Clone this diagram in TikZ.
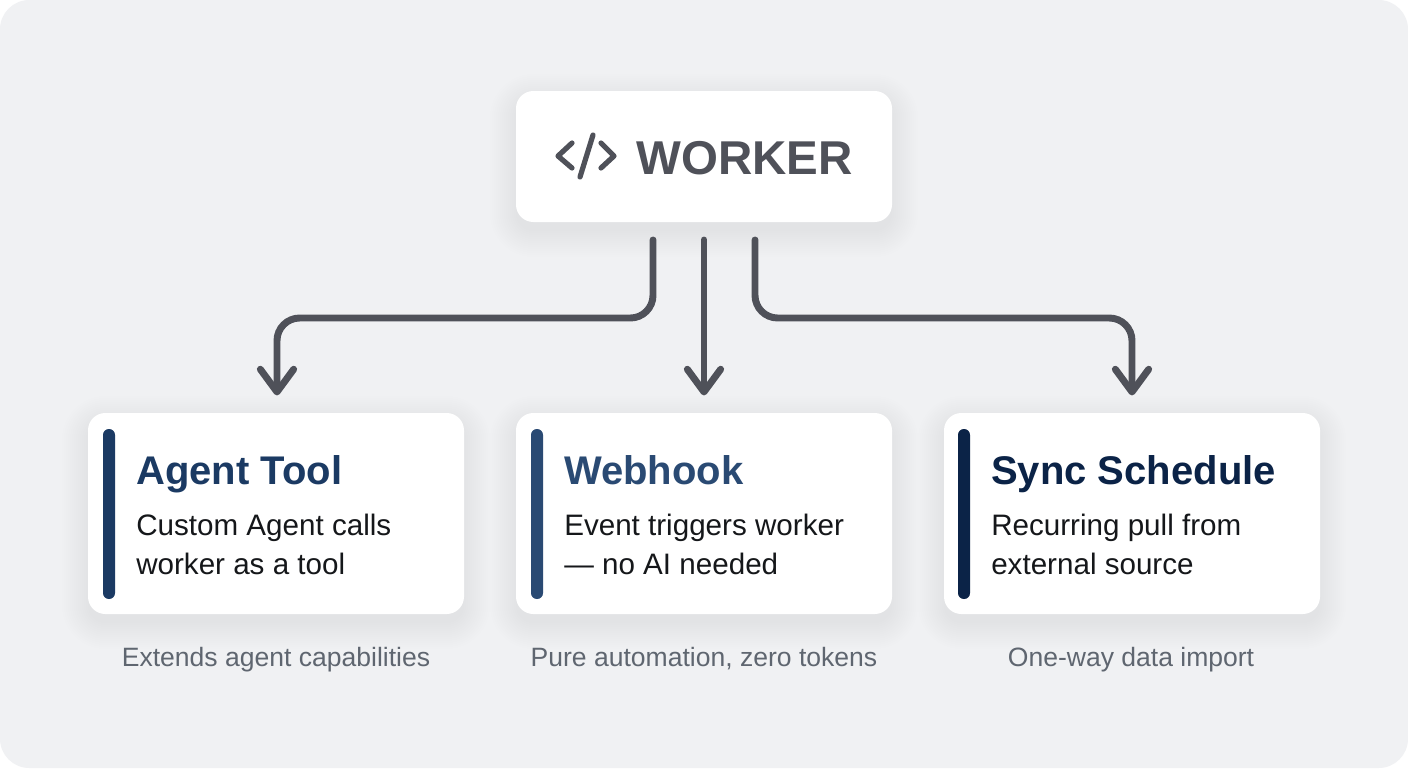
\documentclass[tikz,border=0pt]{standalone}
\usepackage{fontspec}
\setmainfont{Liberation Sans}
\usetikzlibrary{arrows.meta}

\definecolor{pagebg}{HTML}{F0F1F3}
\definecolor{linkgray}{HTML}{4F5159}
\definecolor{agentblue}{HTML}{1B3A63}
\definecolor{hookblue}{HTML}{2A4A73}
\definecolor{syncblue}{HTML}{0B2347}
\definecolor{bodyblack}{HTML}{15171A}
\definecolor{notegray}{HTML}{5F6670}

\tikzset{
    card/.style={draw=none, fill=white, rounded corners=13pt, inner sep=0pt, minimum width=282pt},
    bar/.style={draw=none, rounded corners=4.4pt, inner sep=0pt, minimum width=9pt, minimum height=127.5pt},
    title/.style={anchor=base west, inner sep=0pt, font=\fontsize{30}{32}\selectfont\bfseries},
    body/.style={anchor=base west, inner sep=0pt, text=bodyblack, font=\fontsize{22.2}{24}\selectfont},
    note/.style={anchor=base, inner sep=0pt, text=notegray, font=\fontsize{19.9}{22}\selectfont},
    link/.style={draw=linkgray, line width=5.2pt, rounded corners=17pt, line cap=round,
        -{Straight Barb[length=17pt,width=25pt,round]}, shorten >=13pt},
    icon/.style={draw=linkgray, line width=3.9pt, line cap=round, line join=round},
}

% soft shadow under a card: left, top, right, bottom
\newcommand{\softshadow}[4]{
    \foreach \grow in {0,2,...,26} {
        \fill[black, opacity=0.0036, rounded corners=13pt+0.75pt*\grow]
            (#1-\grow,#2+9-\grow) rectangle (#3+\grow,#4+9+\grow);
    }
}

\begin{document}
\begin{tikzpicture}[x=0.75pt,y=0.75pt,yscale=-1,xscale=1]
    \useasboundingbox (0,0) rectangle (1408,768);

    % page
    \fill[white] (0,0) rectangle (1408,768);
    \fill[pagebg, rounded corners=22pt] (0,0) rectangle (1408,768);

    % shadows
    \softshadow{516}{91}{892}{222}
    \softshadow{88}{413}{464}{614}
    \softshadow{516}{413}{892}{614}
    \softshadow{944}{413}{1320}{614}

    % top card
    \node[card, minimum height=98.25pt] (worker) at (704,156.5) {};
    \draw[icon] (572,143) -- (558,156) -- (572,168);
    \draw[icon] (593,135) -- (580,177);
    \draw[icon] (601,143) -- (614,156) -- (601,168);
    \node[anchor=base west, inner sep=0pt, text=linkgray, font=\fontsize{35.6}{38}\selectfont\bfseries] (workername) at (636,174) {WORKER};

    % bottom cards
    \node[card, minimum height=150.75pt] (agent) at (276,513.5) {};
    \node[card, minimum height=150.75pt] (webhook) at (704,513.5) {};
    \node[card, minimum height=150.75pt] (sync) at (1132,513.5) {};

    \node[bar, fill=agentblue] (agentbar) at (109,514) {};
    \node[bar, fill=hookblue] (webhookbar) at (537,514) {};
    \node[bar, fill=syncblue] (syncbar) at (964,514) {};

    % Agent Tool
    \node[title, text=agentblue] (agenttitle) at (136,484) {Agent Tool};
    \node[body] (agentone) at (136,535) {Custom Agent calls};
    \node[body] (agenttwo) at (136,574) {worker as a tool};
    \node[note] (agentnote) at (276,666) {Extends agent capabilities};

    % Webhook
    \node[title, text=hookblue] (webhooktitle) at (564,484) {Webhook};
    \node[body] (webhookone) at (564,535) {Event triggers worker};
    \node[body] (webhooktwo) at (564,574) {— no AI needed};
    \node[note] (webhooknote) at (704,666) {Pure automation, zero tokens};

    % Sync Schedule
    \node[title, text=syncblue] (synctitle) at (991,484) {Sync Schedule};
    \node[body] (synconem) at (991,535) {Recurring pull from};
    \node[body] (synctwo) at (991,574) {external source};
    \node[note] (syncnote) at (1131,666) {One-way data import};

    % connectors
    \coordinate (startl) at (653,240);
    \coordinate (startm) at (704,240);
    \coordinate (startr) at (755,240);
    \draw[link] (startl) -- (653,318) -| ([xshift=0.75pt]agent.north);
    \draw[link] (startm) -- (webhook.north);
    \draw[link] (startr) -- (755,318) -| (sync.north);
\end{tikzpicture}
\end{document}
